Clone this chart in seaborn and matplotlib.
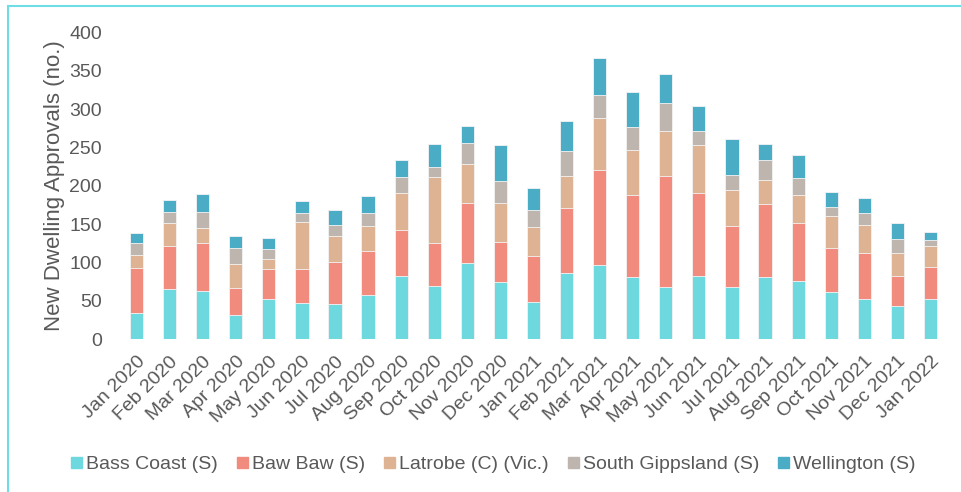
import numpy as np
import pandas as pd
import matplotlib
matplotlib.use("Agg")
import matplotlib.pyplot as plt
import matplotlib.patches as mpatches
import seaborn as sns

# Monthly new dwelling approvals by LGA
months = ["Jan 2020", "Feb 2020", "Mar 2020", "Apr 2020", "May 2020", "Jun 2020",
          "Jul 2020", "Aug 2020", "Sep 2020", "Oct 2020", "Nov 2020", "Dec 2020",
          "Jan 2021", "Feb 2021", "Mar 2021", "Apr 2021", "May 2021", "Jun 2021",
          "Jul 2021", "Aug 2021", "Sep 2021", "Oct 2021", "Nov 2021", "Dec 2021",
          "Jan 2022"]
bass_coast = [34, 66, 63, 32, 53, 47, 46, 58, 82, 69, 99, 75,
              48, 86, 97, 81, 68, 82, 68, 81, 76, 61, 53, 43, 52]
baw_baw = [59, 56, 62, 35, 39, 45, 55, 57, 61, 57, 79, 52,
           60, 85, 124, 107, 145, 108, 79, 95, 76, 58, 60, 40, 42]
latrobe = [17, 30, 20, 31, 13, 61, 33, 33, 48, 86, 50, 50,
           38, 42, 68, 59, 59, 63, 47, 32, 36, 42, 36, 30, 27]
south_gippsland = [15, 14, 21, 21, 13, 12, 15, 17, 21, 13, 28, 29,
                   23, 32, 29, 29, 36, 18, 20, 25, 22, 12, 15, 18, 9]
wellington = [14, 15, 23, 16, 14, 15, 20, 22, 22, 30, 22, 47,
              28, 40, 49, 46, 38, 33, 47, 21, 30, 19, 20, 21, 10]

series_names = ["Bass Coast (S)", "Baw Baw (S)", "Latrobe (C) (Vic.)",
                "South Gippsland (S)", "Wellington (S)"]
series_values = [bass_coast, baw_baw, latrobe, south_gippsland, wellington]
colors = ["#6DD9DE", "#F08B7E", "#DDB393", "#BEB5AF", "#4BACC6"]

n = len(months)
df = pd.DataFrame({name: vals for name, vals in zip(series_names, series_values)})
df["month"] = months
cum = df[series_names].cumsum(axis=1)

sns.set_style("white")
plt.rcParams["font.family"] = ["Liberation Sans", "DejaVu Sans"]
text_color = "#595959"

fig = plt.figure(figsize=(9.62, 4.92), dpi=100)
ax = fig.add_axes([0.1247, 0.3104, 0.8597, 0.6239])

# stacked bars: draw cumulative totals from top series down
for name, color in reversed(list(zip(series_names, colors))):
    sns.barplot(x=df["month"], y=cum[name], color=color, saturation=1,
                width=0.4, edgecolor="#F4F4F4", linewidth=0.6, ax=ax)

ax.set_ylim(0, 400)
ax.set_xlim(-0.5, n - 0.5)
ax.set_yticks(np.arange(0, 401, 50))
ax.set_xlabel("")
ax.set_ylabel("New Dwelling Approvals (no.)", fontsize=16, color=text_color, labelpad=3)
ax.tick_params(axis="both", length=0, labelsize=14, labelcolor=text_color)
ax.tick_params(axis="y", pad=13)
ax.tick_params(axis="x", pad=10)
plt.setp(ax.get_xticklabels(), rotation=45, ha="right", rotation_mode="anchor")
for s in ax.spines.values():
    s.set_visible(False)

handles = [mpatches.Patch(color=c, label=nm) for nm, c in zip(series_names, colors)]
fig.legend(handles=handles, loc="center", bbox_to_anchor=(0.513, 0.055), ncol=5,
           frameon=False, fontsize=14, handlelength=0.55, handleheight=0.55,
           handletextpad=0.2, columnspacing=1.0, labelcolor=text_color)

# light cyan frame around the chart (cut off at right and bottom)
frame = mpatches.Rectangle((0.008, -0.1), 1.2, 1.087, transform=fig.transFigure,
                           fill=False, edgecolor="#6EDDE5", linewidth=1.5, clip_on=False)
fig.patches.append(frame)

fig.savefig("out.png", dpi=100)
